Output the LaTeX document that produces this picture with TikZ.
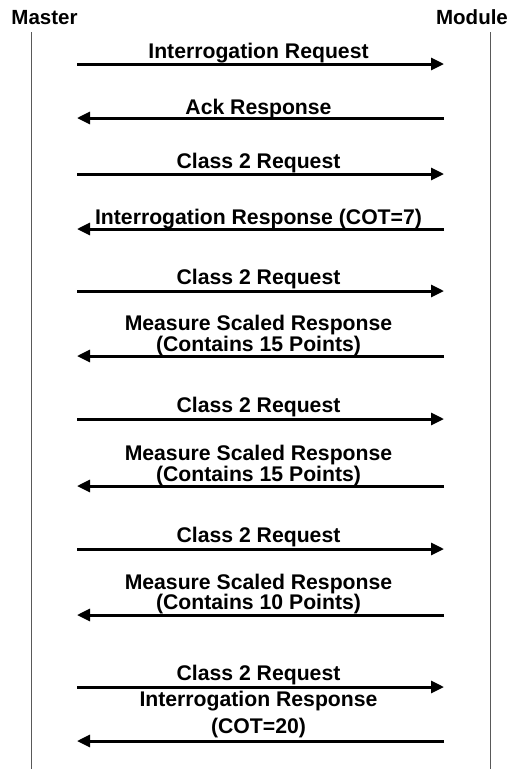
\documentclass[tikz,border=0pt]{standalone}
\usepackage{fontspec}
\setmainfont{Liberation Sans}
\usetikzlibrary{arrows.meta}
\tikzset{
  lbl/.style={font=\fontsize{21.2}{22}\selectfont\bfseries, anchor=base, inner sep=0pt, align=center},
  head/.style={font=\fontsize{20.5}{21}\selectfont\bfseries, anchor=base, inner sep=0pt},
  life/.style={draw=black!65, line width=1.4pt},
  msg/.style={draw=black, line width=3pt, -{Triangle[length=13pt,width=12pt]}},
}
\begin{document}
\begin{tikzpicture}[x=1pt,y=-1pt]
\useasboundingbox (0,0) rectangle (509,769);
% headers and lifelines
\node[head] (master) at (44.5,24) {Master};
\node[head] (module) at (472,24) {Module};
\coordinate (mtop) at (31.5,32);
\coordinate (mbot) at (31.5,769);
\coordinate (dtop) at (490.5,32);
\coordinate (dbot) at (490.5,769);
\draw[life] (mtop) -- (mbot);
\draw[life] (dtop) -- (dbot);
% arrow end points
\foreach \n/\y in {1/64,2/118,3/174,4/229,5/291,6/356,7/419,8/486,9/549,10/615,11/687,12/741}{
  \coordinate (L\n) at (77,\y);
  \coordinate (R\n) at (444,\y);
}
% labels
\node[lbl] (t1) at (258.5,58) {Interrogation Request};
\node[lbl] (t2) at (258.5,114) {Ack Response};
\node[lbl] (t3) at (258.5,168) {Class 2 Request};
\node[lbl] (t4) at (258.5,224) {Interrogation Response (COT=7)};
\node[lbl] (t5) at (258.5,284) {Class 2 Request};
\node[lbl] (t6a) at (258.5,330) {Measure Scaled Response};
\node[lbl] (t6b) at (258.5,351) {(Contains 15 Points)};
\node[lbl] (t7) at (258.5,412) {Class 2 Request};
\node[lbl] (t8a) at (258.5,460) {Measure Scaled Response};
\node[lbl] (t8b) at (258.5,481) {(Contains 15 Points)};
\node[lbl] (t9) at (258.5,542) {Class 2 Request};
\node[lbl] (t10a) at (258.5,589) {Measure Scaled Response};
\node[lbl] (t10b) at (258.5,609) {(Contains 10 Points)};
\node[lbl] (t11) at (258.5,680) {Class 2 Request};
\node[lbl] (t12a) at (258.5,706) {Interrogation Response};
\node[lbl] (t12b) at (258.5,733) {(COT=20)};
% arrows
\draw[msg] (L1) -- (R1);
\draw[msg] (R2) -- (L2);
\draw[msg] (L3) -- (R3);
\draw[msg] (R4) -- (L4);
\draw[msg] (L5) -- (R5);
\draw[msg] (R6) -- (L6);
\draw[msg] (L7) -- (R7);
\draw[msg] (R8) -- (L8);
\draw[msg] (L9) -- (R9);
\draw[msg] (R10) -- (L10);
\draw[msg] (L11) -- (R11);
\draw[msg] (R12) -- (L12);
\end{tikzpicture}
\end{document}
